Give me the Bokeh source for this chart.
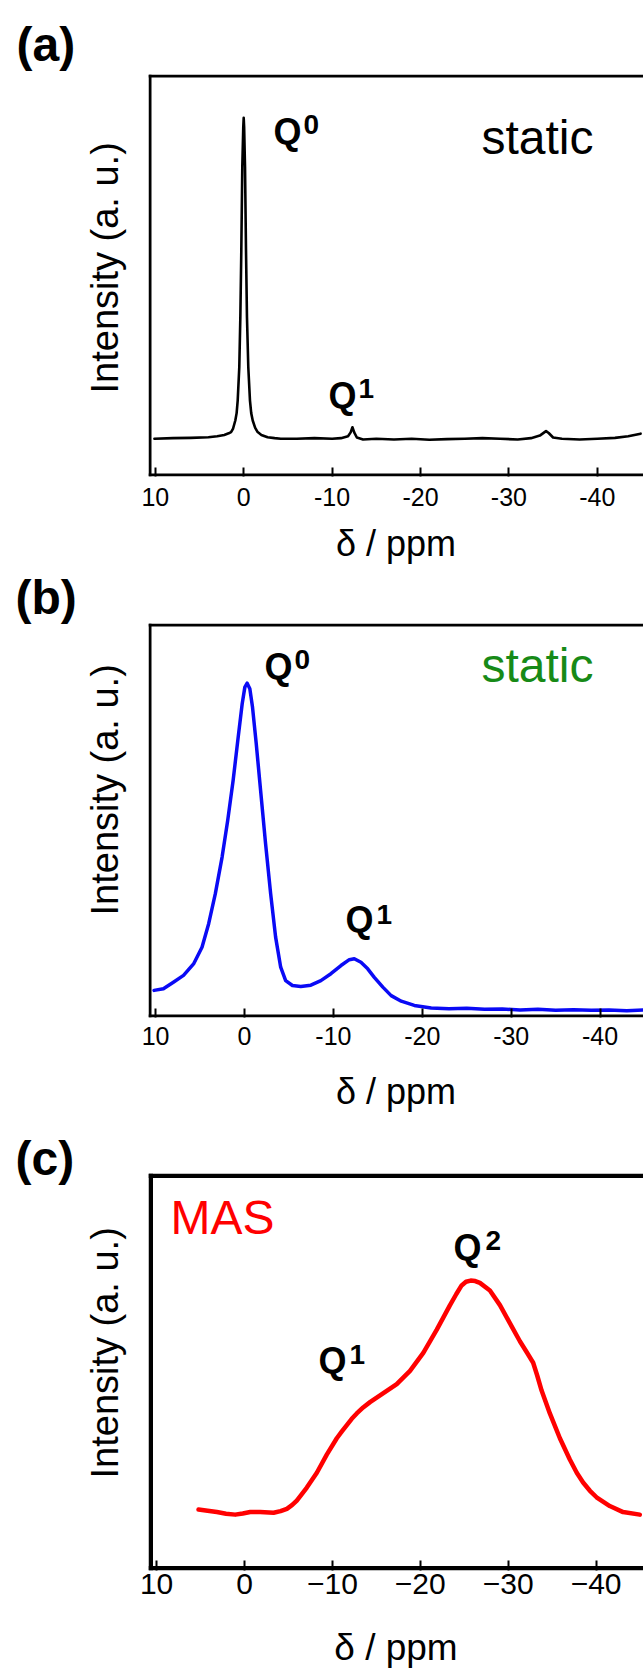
from bokeh.plotting import figure
from bokeh.models import Range1d, FixedTicker, Label, Span, Title
from bokeh.layouts import column
from bokeh.embed import file_html
from bokeh.resources import INLINE

# ---------------- data ----------------
tick_values = [10, 0, -10, -20, -30, -40]
tick_labels_ab = ["10", "0", "-10", "-20", "-30", "-40"]
tick_labels_c = ["10", "0", "\u221210", "\u221220", "\u221230", "\u221240"]

# (a) static, black
a_ppm = [10.1, 8.0, 6.0, 4.0, 3.0, 2.2, 1.7, 1.43, 1.2, 0.95, 0.8, 0.68, 0.5, 0.38,
         0.27, 0.16, 0.05, 0.0, -0.05, -0.15, -0.26, -0.37, -0.52, -0.71, -0.85,
         -1.02, -1.3, -1.58, -2.0, -2.7, -3.5, -4.2, -6.0, -8.0, -10.0, -11.0,
         -11.8, -12.1, -12.3, -12.5, -12.8, -13.5, -15.0, -17.0, -19.0, -21.0,
         -23.0, -25.0, -27.0, -29.0, -31.0, -32.5, -33.5, -34.0, -34.2, -34.5,
         -35.0, -36.0, -38.0, -40.0, -42.0, -43.5, -44.9]
a_int = [0.0, 0.002, 0.003, 0.005, 0.008, 0.012, 0.017, 0.021, 0.032, 0.057, 0.08,
         0.119, 0.223, 0.379, 0.587, 0.846, 0.97, 1.0, 0.97, 0.846, 0.587, 0.379,
         0.223, 0.119, 0.08, 0.057, 0.034, 0.021, 0.012, 0.005, 0.002, 0.0, 0.0,
         0.002, 0.0, 0.002, 0.008, 0.02, 0.036, 0.02, 0.004, -0.002, 0.0, -0.002,
         0.0, -0.003, -0.001, 0.0, 0.002, 0.0, -0.002, 0.002, 0.01, 0.02, 0.024,
         0.018, 0.004, 0.0, -0.002, 0.0, 0.003, 0.008, 0.016]

# (b) static, blue
b_ppm = [10.17, 9.12, 8.0, 6.86, 5.73, 4.78, 4.03, 3.28, 2.52, 1.89, 1.28, 0.71,
         0.26, -0.04, -0.3, -0.6, -0.9, -1.32, -1.81, -2.37, -2.94, -3.5, -4.07,
         -4.63, -5.39, -6.33, -7.46, -8.59, -9.72, -10.85, -11.79, -12.35, -13.1,
         -13.86, -14.6, -15.56, -16.5, -17.63, -19.1, -21.0, -23.0, -25.0, -27.0,
         -29.0, -31.0, -33.0, -35.0, -37.0, -39.0, -41.0, -43.0, -45.0]
b_int = [0.060, 0.065, 0.085, 0.106, 0.141, 0.192, 0.264, 0.356, 0.468, 0.580,
         0.702, 0.835, 0.937, 0.988, 1.0, 0.983, 0.927, 0.815, 0.672, 0.509, 0.356,
         0.223, 0.131, 0.090, 0.075, 0.072, 0.076, 0.090, 0.111, 0.136, 0.154,
         0.157, 0.146, 0.126, 0.100, 0.070, 0.044, 0.027, 0.014, 0.006, 0.004,
         0.005, 0.002, 0.003, 0.0, 0.002, -0.001, 0.001, -0.001, 0.0, -0.002, 0.0]

# (c) MAS, red
c_ppm = [5.23, 4.2, 3.14, 2.1, 1.06, 0.2, -0.65, -1.78, -3.3, -4.1, -4.82, -5.4,
         -5.95, -6.5, -7.09, -8.23, -9.36, -10.5, -11.1, -11.64, -12.2, -12.77,
         -13.5, -14.28, -15.8, -17.32, -18.83, -20.34, -21.86, -23.38, -24.1, -24.7,
         -25.2, -25.73, -26.25, -26.78, -27.92, -29.06, -30.19, -31.33, -32.2,
         -32.84, -33.3, -33.8, -34.74, -35.88, -37.01, -37.8, -38.52, -39.3, -40.05,
         -41.56, -43.07, -44.97]
c_int = [0.011, 0.006, 0.0, -0.007, -0.011, -0.006, 0.0, 0.0, -0.003, 0.004, 0.014,
         0.03, 0.050, 0.077, 0.106, 0.170, 0.248, 0.319, 0.350, 0.376, 0.403, 0.426,
         0.452, 0.475, 0.514, 0.553, 0.610, 0.688, 0.787, 0.894, 0.942, 0.979,
         0.995, 1.0, 0.998, 0.990, 0.957, 0.894, 0.816, 0.738, 0.685, 0.645, 0.590,
         0.525, 0.426, 0.319, 0.227, 0.170, 0.128, 0.092, 0.064, 0.026, 0.0, -0.011]

# ---------------- layout constants ----------------
W = 643
LEFT = 148
SANS = "Liberation Sans"


def make_panel(cfg):
    L, R = LEFT, W
    top, bot = cfg["top"], cfg["bottom"]
    x0 = (cfg["zero_px"] - L) / cfg["px_per_ppm"]
    x1 = (cfg["zero_px"] - R) / cfg["px_per_ppm"]
    scale = cfg["base_px"] - cfg["peak_px"]
    y0 = (cfg["base_px"] - bot) / scale
    y1 = (cfg["base_px"] - top) / scale

    def px2x(px):
        return x0 + (px - L) / (R - L) * (x1 - x0)

    def px2y(py):
        return y1 - (py - top) / (bot - top) * (y1 - y0)

    p = figure(width=W, height=cfg["height"], x_range=Range1d(x0, x1),
               y_range=Range1d(y0, y1), output_backend="svg",
               toolbar_location=None, y_axis_location=None,
               min_border_left=LEFT, min_border_right=0,
               min_border_top=top, min_border_bottom=cfg["height"] - bot,
               title=cfg["title"])
    p.outline_line_color = None
    p.grid.visible = False
    p.background_fill_color = "white"
    p.border_fill_color = "white"

    # panel letter as the plot title
    p.title.text_font = SANS
    p.title.text_font_size = "48px"
    p.title.text_font_style = "bold"
    p.title.text_color = "black"
    p.title.align = "left"
    p.title.offset = cfg["title_x"] - LEFT
    p.title.standoff = cfg["title_standoff"]

    # vertical axis title (placed on the left side, shifted like the original)
    p.add_layout(Title(text="Intensity (a. u.)", align="left",
                       offset=cfg["ylab_offset"], standoff=45,
                       text_font=SANS, text_font_size="38px",
                       text_font_style="normal", text_color="black"), "left")

    lw = cfg["frame_w"]
    xa = p.xaxis[0]
    xa.ticker = FixedTicker(ticks=tick_values)
    xa.major_label_overrides = dict(zip(tick_values, cfg["tick_labels"]))
    xa.major_tick_in = cfg["tick_len"]
    xa.major_tick_out = 0
    xa.major_tick_line_width = 2
    xa.minor_tick_line_color = None
    xa.axis_line_color = None
    xa.major_label_text_font = SANS
    xa.major_label_text_font_size = cfg["tick_size"]
    xa.major_label_text_color = "black"
    xa.major_label_standoff = cfg["standoff"]
    xa.axis_label = "\u03b4 / ppm"
    xa.axis_label_text_font = SANS
    xa.axis_label_text_font_style = "normal"
    xa.axis_label_text_font_size = cfg["xlab_size"]
    xa.axis_label_text_color = "black"
    xa.axis_label_standoff = cfg["xlab_standoff"]

    # frame borders (left, top, bottom), drawn just inside the frame
    half_y = (lw / 2.0) / (bot - top) * (y1 - y0)
    p.add_layout(Span(location=y1 - half_y, dimension="width",
                      line_color="black", line_width=lw))
    p.add_layout(Span(location=y0 + half_y, dimension="width",
                      line_color="black", line_width=lw))
    p.add_layout(Span(location=px2x(L + lw / 2.0), dimension="height",
                      line_color="black", line_width=lw))

    p.line(cfg["x"], cfg["y"], line_color=cfg["color"], line_width=cfg["lw"],
           line_join="round", line_cap="round")

    for t in cfg["texts"]:
        px, py, text, size = t[:4]
        opts = t[4] if len(t) > 4 else {}
        fs = float(size.replace("px", ""))
        p.add_layout(Label(x=px2x(px), y=px2y(py - 0.38 * fs), text=text,
                           text_font=SANS, text_font_size=size,
                           text_color=opts.get("color", "black"),
                           text_font_style="bold" if opts.get("bold") else "normal",
                           text_align="left", text_baseline="alphabetic"))
    return p


panels = [
    dict(title="(a)", title_x=16, title_standoff=8,
         height=567, top=74, bottom=476, zero_px=243.2, px_per_ppm=8.84,
         base_px=438.3, peak_px=117.3, x=a_ppm, y=a_int, color="black", lw=2.6,
         frame_w=3, tick_len=9, tick_size="25px", standoff=11,
         tick_labels=tick_labels_ab, xlab_size="36px", xlab_standoff=14,
         ylab_offset=83,
         texts=[
             (481, 155, "static", "48px"),
             (273, 145, "Q", "36px", dict(bold=True)),
             (303, 135, "0", "28px", dict(bold=True)),
             (328, 409, "Q", "36px", dict(bold=True)),
             (358, 399, "1", "28px", dict(bold=True)),
         ]),
    dict(title="(b)", title_x=15, title_standoff=-1,
         height=551, top=56, bottom=450, zero_px=244.0, px_per_ppm=8.89,
         base_px=442.5, peak_px=115.7, x=b_ppm, y=b_int, color="#0a0af5", lw=3.5,
         frame_w=3, tick_len=9, tick_size="25px", standoff=9,
         tick_labels=tick_labels_ab, xlab_size="36px", xlab_standoff=23,
         ylab_offset=102,
         texts=[
             (481, 116, "static", "48px", dict(color="#178a17")),
             (264, 113, "Q", "36px", dict(bold=True)),
             (294, 103, "0", "28px", dict(bold=True)),
             (345, 366, "Q", "36px", dict(bold=True)),
             (376, 358, "1", "28px", dict(bold=True)),
         ]),
    dict(title="(c)", title_x=15, title_standoff=-22,
         height=552, top=55, bottom=458, zero_px=244.0, px_per_ppm=8.79,
         base_px=398.7, peak_px=163.7, x=c_ppm, y=c_int, color="#ff0000", lw=4.5,
         frame_w=4.5, tick_len=10, tick_size="30px", standoff=3,
         tick_labels=tick_labels_c, xlab_size="37px", xlab_standoff=30,
         ylab_offset=92,
         texts=[
             (170, 118, "MAS", "48px", dict(color="#ff0000")),
             (453, 144, "Q", "36px", dict(bold=True)),
             (485, 134, "2", "28px", dict(bold=True)),
             (318, 259, "Q", "36px", dict(bold=True)),
             (349, 249, "1", "28px", dict(bold=True)),
         ]),
]

figs = [make_panel(c) for c in panels]
layout = column(*figs, spacing=0)

open("out.html", "w").write(file_html(layout, INLINE))
